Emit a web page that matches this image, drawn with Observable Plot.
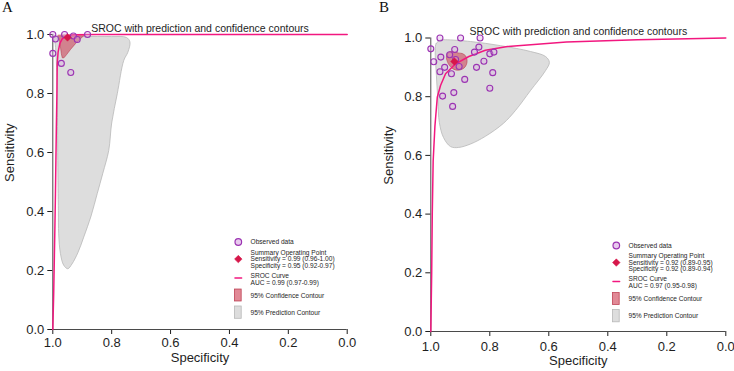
<!DOCTYPE html>
<html><head><meta charset="utf-8">
<script src="https://cdn.jsdelivr.net/npm/d3@7"></script>
<script src="https://cdn.jsdelivr.net/npm/@observablehq/plot@0.6"></script>
<style>
body{margin:0;background:#fff;font-family:"Liberation Sans",Arial,sans-serif;}
#wrap{position:relative;width:734px;height:371px;overflow:hidden;background:#fff;}
.panel{position:absolute;top:0;}
.tag{position:absolute;font-family:"Liberation Serif","Times New Roman",serif;font-size:15px;line-height:15px;color:#111;}
</style></head><body>
<div id="wrap">
  <div class="panel" id="pA" style="left:0"></div>
  <div class="panel" id="pB" style="left:367px"></div>
  <div class="tag" style="left:2px;top:0px">A</div>
  <div class="tag" style="left:379px;top:0px">B</div>
</div>
<script>
// ---------- shared labels / ticks ----------
const specTicks = [1.0, 0.8, 0.6, 0.4, 0.2, 0.0];
const sensTicks = [0.0, 0.2, 0.4, 0.6, 0.8, 1.0];
const titleText = "SROC with prediction and confidence contours";
const xLabel = "Specificity";
const yLabel = "Sensitivity";

// ---------- panel A data: [specificity, sensitivity] ----------
const observedA = [[1.0,1.0],[0.991,0.985],[0.96,1.0],[0.93,0.995],[0.917,0.983],[0.882,1.0],[1.0,0.936],[0.971,0.902],[0.939,0.871]];
const summaryA = [[0.95,0.99]];
const srocA = [[1.0,0.0],[0.997,0.12],[0.993,0.34],[0.991,0.46],[0.988,0.68],[0.986,0.8],[0.985,0.9],[0.982,0.94],[0.976,0.97],[0.968,0.985],[0.955,0.995],[0.93,0.999],[0.85,1.0],[0.0,1.0]];
const confA = [[0.982,0.998],[0.94,0.999],[0.891,0.999],[0.906,0.986],[0.923,0.969],[0.94,0.949],[0.953,0.932],[0.962,0.921],[0.968,0.921],[0.971,0.935],[0.974,0.958],[0.977,0.98]];
const predA = [[0.998,0.99],[0.97,0.993],[0.9,0.993],[0.8,0.993],[0.75,0.99],[0.738,0.975],[0.745,0.94],[0.759,0.912],[0.781,0.799],[0.80,0.70],[0.81,0.607],[0.83,0.53],[0.849,0.461],[0.87,0.385],[0.895,0.313],[0.915,0.26],[0.935,0.222],[0.949,0.206],[0.963,0.218],[0.974,0.257],[0.98,0.324],[0.981,0.403],[0.983,0.573],[0.985,0.8],[0.989,0.93],[0.993,0.975]];
const legendA = ["Observed data",
  ["Summary Operating Point","Sensitivity = 0.99 (0.96-1.00)","Specificity = 0.95 (0.92-0.97)"],
  ["SROC Curve","AUC = 0.99 (0.97-0.99)"],
  "95% Confidence Contour","95% Prediction Contour"];

// ---------- panel B data ----------
const observedB = [[1.0,0.963],[0.969,1.0],[0.899,1.0],[0.833,1.0],[0.837,0.969],[0.852,0.952],[0.919,0.961],[0.936,0.943],[0.966,0.935],[0.99,0.919],[0.80,0.946],[0.786,0.952],[0.82,0.921],[0.916,0.927],[0.904,0.903],[0.93,0.878],[0.953,0.90],[0.969,0.885],[0.845,0.90],[0.885,0.859],[0.79,0.882],[0.80,0.829],[0.922,0.814],[0.96,0.802],[0.926,0.767]];
const summaryB = [[0.92,0.92]];
const srocB = [[1.0,0.0],[0.997,0.2],[0.995,0.4],[0.992,0.58],[0.986,0.70],[0.978,0.798],[0.967,0.838],[0.95,0.878],[0.916,0.912],[0.871,0.937],[0.815,0.958],[0.74,0.971],[0.54,0.986],[0.3,0.994],[0.0,1.0]];
const confB = [[0.947,0.934],[0.943,0.947],[0.933,0.954],[0.919,0.952],[0.906,0.949],[0.893,0.947],[0.882,0.939],[0.877,0.925],[0.879,0.91],[0.887,0.898],[0.901,0.891],[0.916,0.891],[0.93,0.899],[0.94,0.911],[0.945,0.923]];
const predB = [[0.985,0.957],[0.982,0.981],[0.967,0.993],[0.95,0.994],[0.865,0.988],[0.764,0.974],[0.662,0.954],[0.611,0.937],[0.598,0.917],[0.611,0.889],[0.662,0.821],[0.713,0.753],[0.754,0.709],[0.815,0.665],[0.865,0.639],[0.906,0.627],[0.933,0.63],[0.957,0.661],[0.971,0.712],[0.976,0.787],[0.981,0.872]];
const legendB = ["Observed data",
  ["Summary Operating Point","Sensitivity = 0.92 (0.89-0.95)","Specificity = 0.92 (0.89-0.94)"],
  ["SROC Curve","AUC = 0.97 (0.95-0.98)"],
  "95% Confidence Contour","95% Prediction Contour"];

// ---------- styles ----------
const C = {
  sroc: "#f2177f",
  obsStroke: "#9b33b2", obsFill: "#d9a6e3",
  summary: "#d6174a",
  confFill: "#c8283f", confStroke: "#b3263c",
  predFill: "#dddddd", predStroke: "#b8b8b8",
  axis: "#4a4a4a", text: "#1e1e1e"
};
const FONT = "Liberation Sans, Arial, sans-serif";

function panel(o) {
  const W = 367, H = 371;
  const plotW = W - o.ml - o.mr, plotH = H - o.mt - o.mb;
  const px = p => 1 - p / plotW;       // pixel offset from frame left -> spec value
  const py = q => 1 - q / plotH;       // pixel offset from frame top  -> sens value
  const X = d => d[0], Y = d => d[1];
  const L = o.legend;
  const ix = 185.5, tx = 197.7, hw = 3.4;
  const legText = [
    {t: L[0], q: 207.5},
    {t: L[1][0], q: 218.3}, {t: L[1][1], q: 224.6}, {t: L[1][2], q: 231},
    {t: L[2][0], q: 241.3}, {t: L[2][1], q: 248},
    {t: L[3], q: 261.3},
    {t: L[4], q: 278.3}
  ];
  return Plot.plot({
    width: W, height: H,
    marginLeft: o.ml, marginRight: o.mr, marginTop: o.mt, marginBottom: o.mb,
    style: {fontFamily: FONT, fontSize: "13px", color: C.text, background: "#fff", overflow: "visible"},
    x: {domain: [1, 0], ticks: specTicks, tickFormat: d3.format(".1f"), label: null, tickSize: 5, tickPadding: o.xpad},
    y: {domain: [0, 1], ticks: sensTicks, tickFormat: d3.format(".1f"), label: null, tickSize: 5, tickPadding: 3.5},
    marks: [
      Plot.line(o.pred, {x: X, y: Y, curve: "catmull-rom-closed", fill: C.predFill, stroke: C.predStroke, strokeWidth: 0.8}),
      Plot.ruleX([1], {stroke: C.axis, strokeWidth: 1}),
      Plot.ruleY([0], {stroke: C.axis, strokeWidth: 1}),
      Plot.line(o.conf, {x: X, y: Y, curve: o.confCurve, fill: C.confFill, fillOpacity: 0.5, stroke: C.confStroke, strokeOpacity: 0.6, strokeWidth: 0.8}),
      Plot.line(o.sroc, {x: X, y: Y, stroke: C.sroc, strokeWidth: 1.5}),
      Plot.dot(o.obs, {x: X, y: Y, r: 3, stroke: C.obsStroke, fill: C.obsFill, fillOpacity: 0.35, strokeWidth: 1.1}),
      Plot.dot(o.summary, {x: X, y: Y, r: 3.4, symbol: "diamond2", fill: C.summary, stroke: C.summary, strokeWidth: 0.5}),
      Plot.text([titleText], {frameAnchor: "top", dy: -10, fontSize: 10.5, fill: C.text}),
      Plot.text([xLabel], {frameAnchor: "bottom", dy: o.xlab, fontSize: 13, fill: C.text}),
      Plot.text([yLabel], {frameAnchor: "left", dx: o.ylab, rotate: -90, fontSize: 13, fill: C.text}),
      // legend
      Plot.dot([[px(ix), py(207.5)]], {x: X, y: Y, r: 3.3, stroke: C.obsStroke, fill: C.obsFill, fillOpacity: 0.6, strokeWidth: 1.2}),
      Plot.dot([[px(ix), py(224.6)]], {x: X, y: Y, r: 3.4, symbol: "diamond2", fill: C.summary, stroke: C.summary, strokeWidth: 0.5}),
      Plot.line([[px(ix - hw), py(243.5)], [px(ix + hw), py(243.5)]], {x: X, y: Y, stroke: C.sroc, strokeWidth: 1.3}),
      Plot.rect([{a: px(ix - hw), b: px(ix + hw), c: py(255), d: py(267)}], {x1: "a", x2: "b", y1: "c", y2: "d", fill: C.confFill, fillOpacity: 0.55, stroke: C.confStroke, strokeOpacity: 0.8, strokeWidth: 0.8}),
      Plot.rect([{a: px(ix - hw), b: px(ix + hw), c: py(272), d: py(284.3)}], {x1: "a", x2: "b", y1: "c", y2: "d", fill: C.predFill, stroke: C.predStroke, strokeWidth: 0.8}),
      Plot.text(legText, {x: () => px(tx), y: d => py(d.q), text: "t", textAnchor: "start", fontSize: 6.6, fill: C.text})
    ]
  });
}

document.getElementById("pA").append(panel({
  ml: 52.3, mr: 20.3, mt: 34, mb: 42, xpad: 3, xlab: 32, ylab: -43.3, confCurve: "linear-closed",
  obs: observedA, summary: summaryA, sroc: srocA, conf: confA, pred: predA, legend: legendA
}));
document.getElementById("pB").append(panel({
  ml: 63.3, mr: 8.7, mt: 37.5, mb: 40, xpad: 5, xlab: 33, ylab: -41.6, confCurve: "catmull-rom-closed",
  obs: observedB, summary: summaryB, sroc: srocB, conf: confB, pred: predB, legend: legendB
}));
</script>
</body></html>
